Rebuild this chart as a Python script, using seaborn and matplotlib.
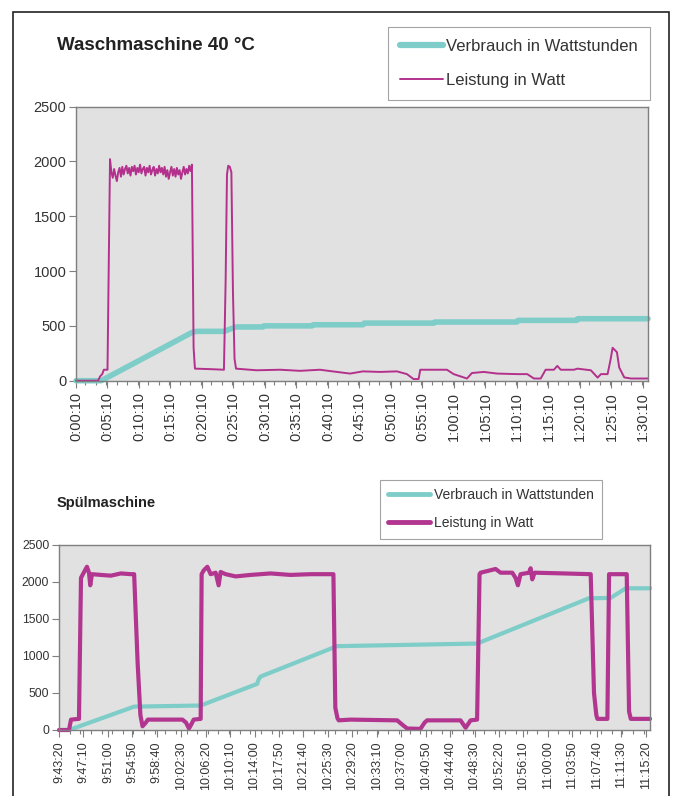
import matplotlib
matplotlib.use("Agg")
import matplotlib.pyplot as plt
import matplotlib.ticker as mticker
from matplotlib.lines import Line2D
from matplotlib.patches import Rectangle
import seaborn as sns
import numpy as np
import pandas as pd

# ── Data: Waschmaschine 40 °C (seconds since 0:00:00) ─────────────────────────
WM_POWER_PRE_T = [10, 220, 240, 260, 275, 310]
WM_POWER_PRE   = [0, 0, 40, 60, 100, 100]

# heating plateau, one reading every 13 s from 0:05:34
WM_PLATEAU_START = 334
WM_PLATEAU_STEP  = 13
WM_PLATEAU = [2020, 1900, 1850, 1930, 1870, 1820, 1900, 1940, 1860, 1950,
              1880, 1930, 1960, 1890, 1940, 1870, 1950, 1910, 1960, 1880,
              1940, 1900, 1970, 1890, 1930, 1950, 1870, 1940, 1900, 1960,
              1880, 1920, 1950, 1870, 1930, 1890, 1960, 1900, 1940, 1880,
              1950, 1860, 1920, 1840, 1900, 1950, 1870, 1930, 1860, 1940,
              1880, 1920, 1840, 1900, 1950, 1880, 1930, 1890, 1960, 1910,
              1970]

WM_POWER_POST_T = [1130, 1143, 1300, 1419, 1435, 1448, 1460, 1475, 1490, 1505,
                   1520, 1534, 1731, 1953, 2143, 2334, 2429, 2620, 2743, 2905,
                   3067, 3162, 3225, 3273, 3289, 3543, 3607, 3734, 3781, 3894,
                   4021, 4213, 4308, 4372, 4436, 4483, 4562, 4594, 4627, 4753,
                   4786, 4914, 4978, 5010, 5073, 5099, 5121, 5162, 5184, 5232,
                   5296, 5458]
WM_POWER_POST   = [300, 110, 105, 100, 900, 1880, 1960, 1950, 1900, 800,
                   200, 110, 95, 100, 90, 100, 88, 65, 85, 80,
                   85, 60, 15, 15, 100, 100, 60, 20, 70, 80,
                   65, 60, 60, 20, 20, 100, 100, 135, 100, 100,
                   110, 95, 28, 60, 60, 180, 300, 260, 120, 30,
                   20, 20]

WM_ENERGY_T = [10, 250, 1115, 1160, 1420, 1534, 1790, 1800, 2258, 2270,
               2743, 2755, 3419, 3430, 4210, 4220, 4781, 4790, 5458]
WM_ENERGY   = [0, 0, 440, 450, 450, 490, 490, 500, 500, 510,
               510, 525, 525, 535, 535, 550, 550, 565, 565]

WM_XMIN, WM_XMAX = 10, 5458
WM_LABEL_STEP = 300

# ── Data: Spülmaschine (seconds since 9:43:20) ────────────────────────────────
SP_START = 9 * 3600 + 43 * 60 + 20
SP_POWER_T = [0, 94, 113, 188, 207, 225, 263, 282, 294, 310,
              394, 488, 582, 676, 707, 740, 766, 786, 817, 836,
              1161, 1195, 1223, 1250, 1267, 1333, 1342, 1361, 1396, 1427,
              1474, 1502, 1521, 1568, 1662, 1802, 1990, 2178, 2366, 2582,
              2600, 2620, 2632, 2741, 3182, 3240, 3277, 3401, 3440, 3464,
              3778, 3826, 3873, 3934, 3957, 3967, 4108, 4155, 4265, 4296,
              4318, 4343, 4422, 4438, 4453, 4475, 4750, 5003, 5034, 5056,
              5066, 5160, 5176, 5342, 5364, 5380, 5561]
SP_POWER   = [0, 0, 140, 150, 2050, 2100, 2200, 2120, 1950, 2100,
              2090, 2080, 2110, 2100, 2100, 900, 200, 50, 100, 140,
              140, 100, 20, 90, 140, 150, 2100, 2150, 2200, 2100,
              2120, 1950, 2130, 2100, 2070, 2090, 2110, 2090, 2100, 2100,
              300, 160, 130, 140, 130, 60, 20, 15, 100, 130,
              130, 30, 130, 140, 2100, 2120, 2170, 2120, 2120, 2050,
              1950, 2100, 2120, 2180, 2030, 2120, 2110, 2100, 500, 200,
              150, 150, 2100, 2100, 250, 150, 150]

SP_ENERGY_T = [0, 94, 707, 1333, 1865, 1878, 1896, 2616, 3000, 3934,
               4985, 5191, 5332, 5561]
SP_ENERGY   = [0, 0, 315, 330, 622, 680, 720, 1130, 1140, 1165,
               1775, 1780, 1910, 1910]

SP_XMIN, SP_XMAX = 0, 5561
SP_LABEL_STEP = 230

LABEL_ENERGY = "Verbrauch in Wattstunden"
LABEL_POWER  = "Leistung in Watt"

# ── Style ─────────────────────────────────────────────────────────────────────
sns.set_theme(style="white")
plt.rcParams["font.family"] = ["Liberation Sans", "DejaVu Sans"]

CYAN    = "#7ecdc8"
PINK    = "#b3318c"
PINK2   = "#b2368f"
PLOT_BG = "#e1e1e1"
SPINE   = "#7f7f7f"
W, H = 673, 796


def hms(sec, offset=0):
    s = int(round(sec + offset))
    return f"{s // 3600}:{(s % 3600) // 60:02d}:{s % 60:02d}"


def style_axes(ax, xmin, xmax, step, offset, xfs, yfs):
    ax.set_facecolor(PLOT_BG)
    ax.set_xlim(xmin, xmax)
    ax.set_ylim(0, 2500)
    ax.set_yticks(range(0, 2501, 500))
    ax.xaxis.set_major_locator(mticker.FixedLocator(np.arange(xmin, xmax + 1, step)))
    ax.xaxis.set_minor_locator(mticker.MultipleLocator(100))
    ax.xaxis.set_major_formatter(mticker.FuncFormatter(lambda v, _: hms(v, offset)))
    ax.tick_params(axis="x", which="major", rotation=90, labelsize=xfs,
                   length=5, width=0.8, color=SPINE, labelcolor="#333333", pad=3)
    ax.tick_params(axis="x", which="minor", length=3, width=0.8, color=SPINE)
    ax.tick_params(axis="y", labelsize=yfs, length=5, width=0.8, color=SPINE,
                   labelcolor="#333333", pad=2)
    ax.tick_params(bottom=True, left=True, which="both", direction="out")
    for sp in ax.spines.values():
        sp.set_color(SPINE)
        sp.set_linewidth(1.0)
    ax.set_xlabel("")
    ax.set_ylabel("")


fig = plt.figure(figsize=(W / 100, H / 100), dpi=100)
fig.patch.set_facecolor("white")
fig.patches.append(Rectangle((13 / W, -0.05), (669 - 13) / W, 1.05 - 12 / H,
                             transform=fig.transFigure, fill=False,
                             edgecolor="#222222", linewidth=1.2))

# ── Top: Waschmaschine ────────────────────────────────────────────────────────
plateau_t = WM_PLATEAU_START + WM_PLATEAU_STEP * np.arange(len(WM_PLATEAU))
wm_power = pd.DataFrame({
    "t": WM_POWER_PRE_T + list(plateau_t) + WM_POWER_POST_T,
    "w": WM_POWER_PRE + WM_PLATEAU + WM_POWER_POST,
})
wm_energy = pd.DataFrame({"t": WM_ENERGY_T, "wh": WM_ENERGY})

ax1 = fig.add_axes([76 / W, 1 - 380.7 / H, (648 - 76) / W, (380.7 - 106.5) / H])
sns.lineplot(data=wm_energy, x="t", y="wh", ax=ax1, color=CYAN, linewidth=4,
             estimator=None, sort=False, clip_on=False)
sns.lineplot(data=wm_power, x="t", y="w", ax=ax1, color=PINK, linewidth=1.4,
             estimator=None, sort=False, clip_on=False)
style_axes(ax1, WM_XMIN, WM_XMAX, WM_LABEL_STEP, 0, 10.5, 10.5)

fig.text(57 / W, 1 - 45 / H, "Waschmaschine 40 °C", fontsize=13.5,
         fontweight="bold", color="#222222", va="center", ha="left")
h1 = [Line2D([], [], color=CYAN, linewidth=4.5),
      Line2D([], [], color=PINK, linewidth=1.4)]
leg1 = fig.legend(h1, [LABEL_ENERGY, LABEL_POWER], loc="upper left",
                  bbox_to_anchor=(388 / W, 1 - 27 / H), fontsize=12,
                  frameon=True, fancybox=False, edgecolor="#8c8c8c",
                  borderpad=0.7, labelspacing=1.15, handlelength=2.6,
                  handletextpad=0.2, borderaxespad=0)
leg1.get_frame().set_linewidth(0.8)
for t in leg1.get_texts():
    t.set_color("#333333")

# ── Bottom: Spülmaschine ──────────────────────────────────────────────────────
sp_power = pd.DataFrame({"t": SP_POWER_T, "w": SP_POWER})
sp_energy = pd.DataFrame({"t": SP_ENERGY_T, "wh": SP_ENERGY})

ax2 = fig.add_axes([59 / W, 1 - 730 / H, (650 - 59) / W, (730 - 544.5) / H])
sns.lineplot(data=sp_energy, x="t", y="wh", ax=ax2, color=CYAN, linewidth=3,
             estimator=None, sort=False, clip_on=False)
sns.lineplot(data=sp_power, x="t", y="w", ax=ax2, color=PINK2, linewidth=3,
             estimator=None, sort=False, clip_on=False)
style_axes(ax2, SP_XMIN, SP_XMAX, SP_LABEL_STEP, SP_START, 9, 8.8)

fig.text(57 / W, 1 - 503 / H, "Spülmaschine", fontsize=10.5,
         fontweight="bold", color="#222222", va="center", ha="left")
h2 = [Line2D([], [], color=CYAN, linewidth=3.5),
      Line2D([], [], color=PINK2, linewidth=3.5)]
leg2 = fig.legend(h2, [LABEL_ENERGY, LABEL_POWER], loc="upper left",
                  bbox_to_anchor=(380 / W, 1 - 480 / H), fontsize=10,
                  frameon=True, fancybox=False, edgecolor="#8c8c8c",
                  borderpad=0.6, labelspacing=1.0, handlelength=3.0,
                  handletextpad=0.3, borderaxespad=0)
leg2.get_frame().set_linewidth(0.8)
for t in leg2.get_texts():
    t.set_color("#333333")

fig.savefig("out.png", dpi=100)
